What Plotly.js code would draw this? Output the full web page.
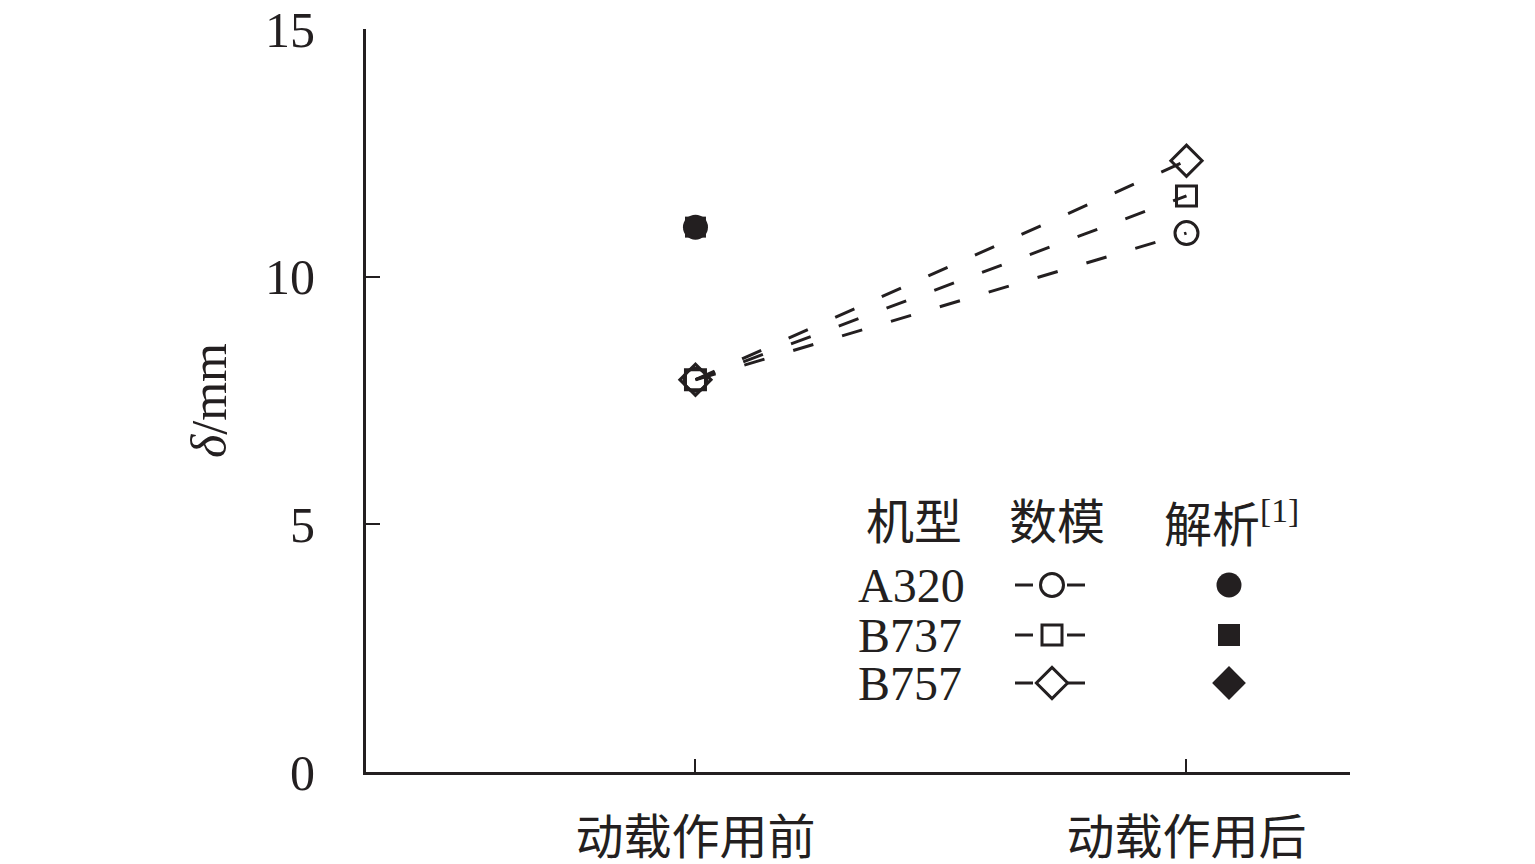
<!DOCTYPE html>
<html>
<head>
<meta charset="utf-8">
<script src="https://cdn.plot.ly/plotly-3.0.1.min.js"></script>
<style>html,body{margin:0;padding:0;background:#fff;}#chart{width:1535px;height:864px;}</style>
</head>
<body>
<div id="chart"></div>
<script>
// ---- data ----
const categories = ["动载作用前", "动载作用后"];
const models = ["A320", "B737", "B757"];
const numericSymbols = ["circle-open", "square-open", "diamond-open"];
const analyticSymbols = ["circle", "square", "diamond"];
const numericBefore = [7.92, 7.92, 7.92];
const numericAfter = [10.88, 11.63, 12.34];
const analyticBefore = [11.0, 11.0, 11.0];
const yTicks = [0, 5, 10, 15];
const legendHeaders = ["机型", "数模", "解析<sup>[1]</sup>"];

// ---- layout constants (pixels) ----
const W = 1535, H = 864;
const L = 366, R = 1350, T = 29, B = 772;
const FONT = "'Liberation Serif', 'Noto Sans CJK SC', serif";
const INK = "#231f20";
const markerSizes = {circle: 23, square: 20, diamond: 24};
const plotAnalyticSizes = {circle: 25, square: 21, diamond: 18};

const px = x => (x - L) / (R - L);
const py = y => (B - y) / (B - T);

const traces = [];
models.forEach((m, i) => {
  const base = analyticSymbols[i];
  traces.push({
    type: "scatter", mode: "lines+markers",
    x: [0, 1], y: [numericBefore[i], numericAfter[i]],
    line: {color: INK, width: 3, dash: "21px,30px"},
    marker: {symbol: numericSymbols[i], size: markerSizes[base], color: INK, line: {color: INK, width: 3}},
    showlegend: false, hoverinfo: "skip", cliponaxis: false
  });
});
models.forEach((m, i) => {
  const base = analyticSymbols[i];
  traces.push({
    type: "scatter", mode: "markers",
    x: [0], y: [analyticBefore[i]],
    marker: {symbol: analyticSymbols[i], size: plotAnalyticSizes[base], color: INK, line: {width: 0}},
    showlegend: false, hoverinfo: "skip", cliponaxis: false
  });
});

// ---- custom legend table (overlay axes in pixel units) ----
const rowY = [585, 635, 683];
const colNum = 1052, colAna = 1229;
models.forEach((m, i) => {
  const base = analyticSymbols[i];
  traces.push({
    type: "scatter", mode: "lines", xaxis: "x2", yaxis: "y2",
    x: [1015, 1033, null, 1067, 1085], y: [rowY[i], rowY[i], null, rowY[i], rowY[i]],
    line: {color: INK, width: 3}, showlegend: false, hoverinfo: "skip", cliponaxis: false
  });
  traces.push({
    type: "scatter", mode: "markers", xaxis: "x2", yaxis: "y2",
    x: [colNum], y: [rowY[i]],
    marker: {symbol: numericSymbols[i], size: markerSizes[base], color: INK, line: {color: INK, width: 3}},
    showlegend: false, hoverinfo: "skip", cliponaxis: false
  });
  traces.push({
    type: "scatter", mode: "markers", xaxis: "x2", yaxis: "y2",
    x: [colAna], y: [rowY[i]],
    marker: {symbol: analyticSymbols[i], size: markerSizes[base] + 2, color: INK, line: {width: 0}},
    showlegend: false, hoverinfo: "skip", cliponaxis: false
  });
});

const annotations = [];
const headerX = [914, 1057, 1162];
const headerAnchor = ["center", "center", "left"];
legendHeaders.forEach((h, j) => {
  annotations.push({
    xref: "paper", yref: "paper", x: px(headerX[j]), y: py(522),
    xanchor: headerAnchor[j], yanchor: "middle", showarrow: false,
    text: h, font: {family: FONT, size: 48, color: INK}
  });
});
models.forEach((m, i) => {
  annotations.push({
    xref: "paper", yref: "paper", x: px(856), y: py(rowY[i]),
    xanchor: "left", yanchor: "middle", showarrow: false,
    text: m, font: {family: FONT, size: 48, color: INK}
  });
});

const layout = {
  width: W, height: H,
  margin: {l: L, r: W - R, t: T, b: H - B, pad: 0},
  paper_bgcolor: "#fff", plot_bgcolor: "#fff",
  font: {family: FONT, size: 48, color: INK},
  showlegend: false,
  xaxis: {
    range: [-0.671, 1.333], tickvals: [0, 1], ticktext: categories,
    showgrid: false, zeroline: false, showline: true, linecolor: INK, linewidth: 3,
    ticks: "inside", ticklen: 13, tickwidth: 2, tickcolor: INK,
    ticklabelstandoff: 21, tickfont: {family: FONT, size: 48, color: INK}
  },
  yaxis: {
    range: [0, 15], tickvals: yTicks,
    showgrid: false, zeroline: false, showline: true, linecolor: INK, linewidth: 3,
    ticks: "inside", ticklen: 14, tickwidth: 2, tickcolor: INK,
    ticklabelstandoff: 38, tickfont: {family: FONT, size: 50, color: INK},
    title: {text: "<i>δ</i>/mm", font: {family: FONT, size: 50, color: INK}, standoff: 23}
  },
  xaxis2: {overlaying: "x", range: [L, R], visible: false, showticklabels: false, anchor: "y2"},
  yaxis2: {overlaying: "y", range: [B, T], visible: false, showticklabels: false, anchor: "x2"},
  annotations: annotations
};

Plotly.newPlot("chart", traces, layout, {staticPlot: true, displayModeBar: false});
</script>
</body>
</html>
